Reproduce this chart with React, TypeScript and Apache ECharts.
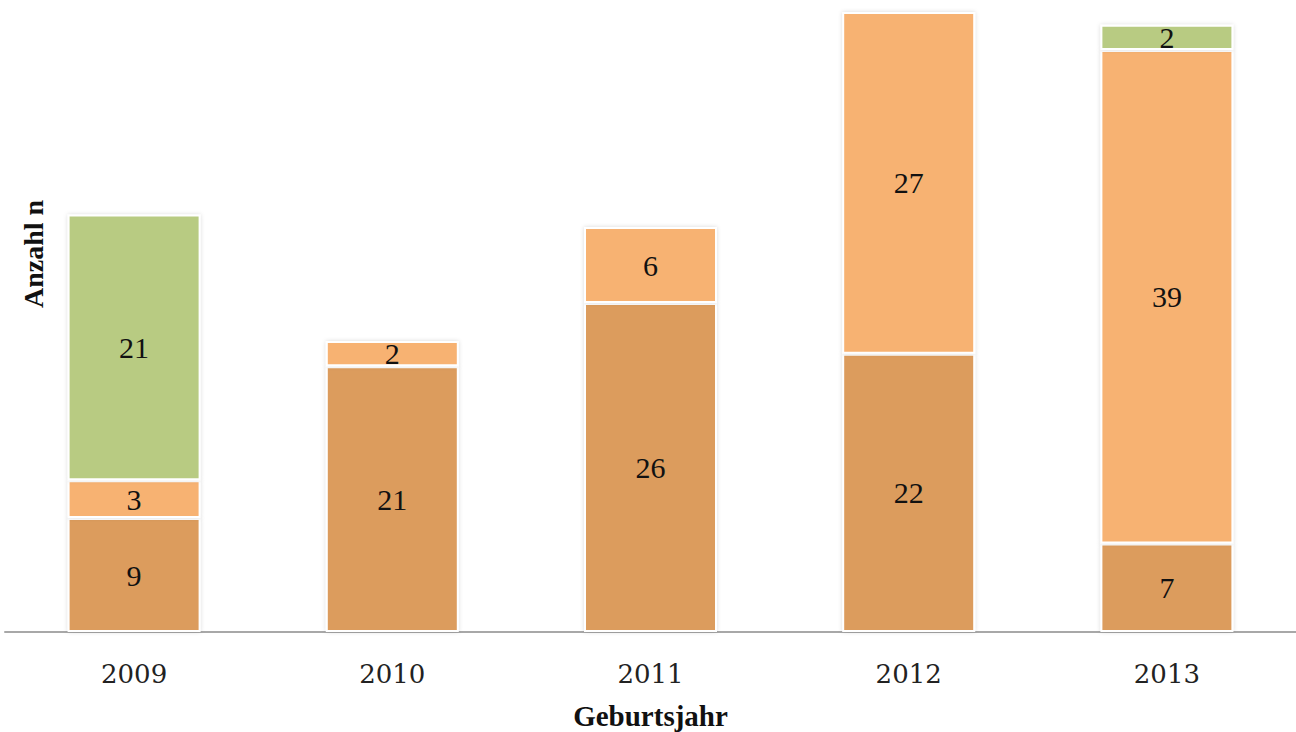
import React, { useEffect, useRef } from "react";
import * as echarts from "echarts";

const years = ["2009", "2010", "2011", "2012", "2013"];
const seriesA = [9, 21, 26, 22, 7];
const seriesB = [3, 2, 6, 27, 39];
const seriesC = [21, null, null, null, 2];
const colors = ["#DC9C5D", "#F7B272", "#B8CB82"];

export default function App() {
  const ref = useRef<HTMLDivElement>(null);
  useEffect(() => {
    if (!ref.current) return;
    const chart = echarts.init(ref.current, undefined, { renderer: "svg", width: 1296, height: 732 });
    const mk = (name: string, data: (number | null)[], color: string) => ({
      name,
      type: "bar",
      stack: "total",
      data,
      barWidth: 133,
      itemStyle: {
        color,
        borderColor: "#ffffff",
        borderWidth: 2,
        shadowBlur: 4,
        shadowColor: "rgba(0,0,0,0.15)",
      },
      label: {
        show: true,
        position: "inside",
        color: "#111",
        fontFamily: "Liberation Serif",
        fontSize: 30,
      },
    });
    chart.setOption({
      animation: false,
      grid: { left: 5, right: 0, top: 12, bottom: 100, outerBoundsMode: "none", containLabel: false },
      xAxis: {
        type: "category",
        data: years,
        axisTick: { show: false },
        axisLine: { lineStyle: { color: "#a8a8a8", width: 2 } },
        axisLabel: {
          margin: 29,
          color: "#222",
          fontFamily: "DejaVu Serif",
          fontSize: 26,
        },
        name: "Geburtsjahr",
        nameLocation: "middle",
        nameGap: 69,
        nameTextStyle: {
          fontFamily: "Liberation Serif",
          fontWeight: "bold",
          fontSize: 29,
          lineHeight: 29,
          color: "#111",
        },
      },
      yAxis: {
        type: "value",
        min: 0,
        max: 49,
        show: false,
      },
      graphic: [
        {
          type: "text",
          x: 33,
          y: 254,
          rotation: Math.PI / 2,
          style: {
            text: "Anzahl n",
            fontFamily: "Liberation Serif",
            fontWeight: "bold",
            fontSize: 28,
            fill: "#111",
            textAlign: "center",
            textVerticalAlign: "middle",
          },
        },
      ],
      series: [
        mk("A", seriesA, colors[0]),
        mk("B", seriesB, colors[1]),
        mk("C", seriesC, colors[2]),
      ],
    });
    return () => chart.dispose();
  }, []);
  return <div ref={ref} style={{ width: 1296, height: 732, position: "absolute", left: 0, top: 0 }} />;
}
